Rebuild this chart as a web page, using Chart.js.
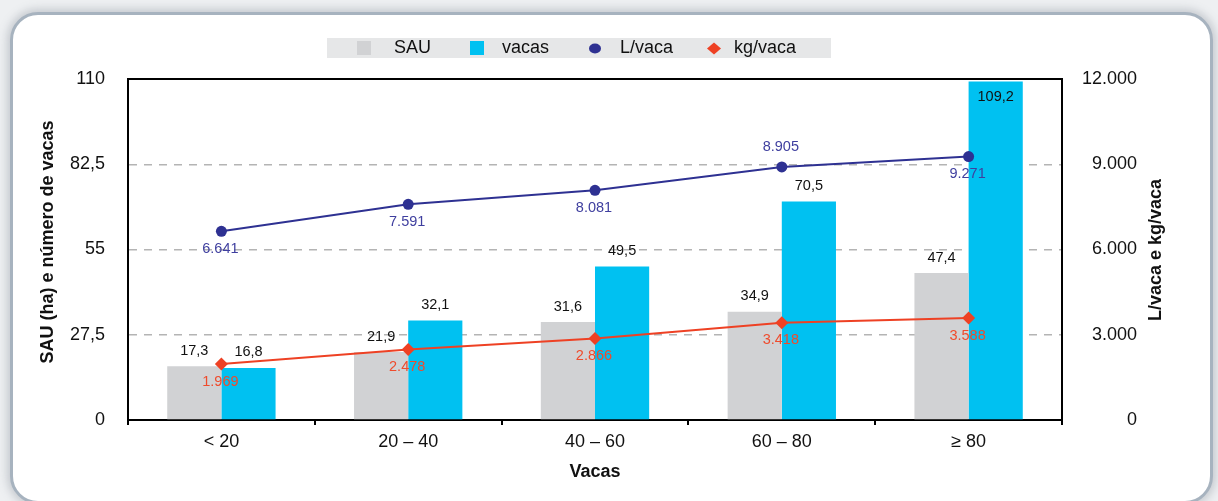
<!DOCTYPE html>
<html>
<head>
<meta charset="utf-8">
<script src="https://cdn.jsdelivr.net/npm/chart.js@4.4.1/dist/chart.umd.min.js"></script>
<style>
  html, body { margin: 0; padding: 0; background: #ffffff; overflow: hidden; }
  #wrap { position: relative; width: 1218px; height: 501px; background: #eef0f2; overflow: hidden; }
  #frame {
    position: absolute; left: 10px; top: 12px; width: 1197px; height: 486px;
    border: 3px solid #a7b3bf; border-radius: 28px; background: #ffffff;
    box-shadow: 0 0 9px 3px rgba(120,130,140,0.35);
  }
  #c { position: absolute; left: 0; top: 0; }
</style>
</head>
<body>
<div id="wrap">
  <div id="frame"></div>
  <canvas id="c" width="1218" height="501"></canvas>
</div>
<script>
// ---- data ----
const categories = ['< 20', '20 – 40', '40 – 60', '60 – 80', '≥ 80'];
const sauValues = [17.3, 21.9, 31.6, 34.9, 47.4];
const vacasValues = [16.8, 32.1, 49.5, 70.5, 109.2];
const litrosVaca = [6641, 7591, 8081, 8905, 9271];
const kgVaca = [1969, 2478, 2866, 3418, 3588];
const leftTickLabels = ['0', '27,5', '55', '82,5', '110'];
const rightTickLabels = ['0', '3.000', '6.000', '9.000', '12.000'];
const seriesNames = ['SAU', 'vacas', 'L/vaca', 'kg/vaca'];
const leftAxisTitle = 'SAU (ha) e número de vacas';
const rightAxisTitle = 'L/vaca e kg/vaca';
const xAxisTitle = 'Vacas';

// ---- label placement (style) ----
const sauLabelPos = ['above', 'above', 'above', 'above', 'above'];
const vacasLabelPos = ['above', 'above', 'above', 'above', 'inside'];
const litrosLabelPos = ['below', 'below', 'below', 'above', 'below'];
const kgLabelPos = ['below', 'below', 'below', 'below', 'below'];

const FONT = '"Liberation Sans", Arial, Helvetica, sans-serif';
const C_GRAY = '#d1d2d4';
const C_CYAN = '#00c1f1';
const C_BLUE = '#2e3192';
const C_BLUE_TXT = '#3f3f9f';
const C_RED = '#ee4124';
const C_RED_TXT = '#ef4b2c';

function fmtDec(v) { return v.toFixed(1).replace('.', ','); }
function fmtThousands(v) {
  const s = String(Math.round(v));
  return s.replace(/\B(?=(\d{3})+(?!\d))/g, '.');
}

const labelPlugin = {
  id: 'valueLabels',
  afterDatasetsDraw(chart) {
    const ctx = chart.ctx;
    ctx.save();
    ctx.font = '14.5px ' + FONT;
    ctx.textAlign = 'center';
    ctx.textBaseline = 'middle';
    chart.data.datasets.forEach((ds, i) => {
      const meta = chart.getDatasetMeta(i);
      meta.data.forEach((el, j) => {
        const v = ds.data[j];
        const pos = ds.labelPos[j];
        let y;
        if (ds.type === 'bar') {
          y = pos === 'inside' ? el.y + 15.5 : el.y - 15.5;
          ctx.fillStyle = '#111111';
          ctx.fillText(fmtDec(v), el.x, y);
        } else {
          y = pos === 'above' ? el.y - 19.5 : el.y + 17.5;
          ctx.fillStyle = ds.labelColor;
          ctx.fillText(fmtThousands(v), el.x - 1, y);
        }
      });
    });
    ctx.restore();
  }
};

const decorPlugin = {
  id: 'decor',
  afterDraw(chart) {
    const ctx = chart.ctx;
    const a = chart.chartArea;
    ctx.save();
    // top frame line of plot box
    ctx.strokeStyle = '#000000';
    ctx.lineWidth = 2;
    ctx.beginPath();
    ctx.moveTo(a.left - 1, a.top);
    ctx.lineTo(a.right + 1, a.top);
    ctx.stroke();

    // axis titles (vertical, reading upward)
    ctx.fillStyle = '#111111';
    ctx.font = 'bold 18px ' + FONT;
    ctx.textAlign = 'center';
    ctx.textBaseline = 'middle';
    ctx.save();
    ctx.translate(48, 242);
    ctx.rotate(-Math.PI / 2);
    ctx.fillText(leftAxisTitle, 0, 0);
    ctx.restore();
    ctx.save();
    ctx.translate(1156, 250);
    ctx.rotate(-Math.PI / 2);
    ctx.fillText(rightAxisTitle, 0, 0);
    ctx.restore();

    // legend
    const ds = chart.data.datasets;
    ctx.fillStyle = '#e6e7e8';
    ctx.fillRect(327, 38, 504, 20);
    const cy = 48.5;
    ctx.font = '18px ' + FONT;
    ctx.textAlign = 'left';
    ctx.textBaseline = 'middle';
    // SAU
    ctx.fillStyle = ds[2].backgroundColor;
    ctx.fillRect(357, 41, 14, 14);
    ctx.fillStyle = '#111111';
    ctx.fillText(ds[2].label, 394, cy);
    // vacas
    ctx.fillStyle = ds[3].backgroundColor;
    ctx.fillRect(470, 41, 14, 14);
    ctx.fillStyle = '#111111';
    ctx.fillText(ds[3].label, 502, cy);
    // L/vaca
    ctx.fillStyle = ds[0].borderColor;
    ctx.beginPath();
    ctx.ellipse(595, cy, 6, 5, 0, 0, Math.PI * 2);
    ctx.fill();
    ctx.fillStyle = '#111111';
    ctx.fillText(ds[0].label, 620, cy);
    // kg/vaca
    ctx.fillStyle = ds[1].borderColor;
    ctx.beginPath();
    ctx.moveTo(714, cy - 6);
    ctx.lineTo(721, cy);
    ctx.lineTo(714, cy + 6);
    ctx.lineTo(707, cy);
    ctx.closePath();
    ctx.fill();
    ctx.fillStyle = '#111111';
    ctx.fillText(ds[1].label, 734, cy);
    ctx.restore();
  }
};

new Chart(document.getElementById('c'), {
  data: {
    labels: categories,
    datasets: [
      {
        type: 'line', label: seriesNames[2], data: litrosVaca, yAxisID: 'y1', order: 0,
        borderColor: C_BLUE, backgroundColor: C_BLUE, borderWidth: 2,
        pointStyle: 'circle', pointRadius: 5.5, pointBackgroundColor: C_BLUE, pointBorderWidth: 0,
        labelPos: litrosLabelPos, labelColor: C_BLUE_TXT
      },
      {
        type: 'line', label: seriesNames[3], data: kgVaca, yAxisID: 'y1', order: 0,
        borderColor: C_RED, backgroundColor: C_RED, borderWidth: 2,
        pointStyle: 'rectRot', pointRadius: 6.5, pointBackgroundColor: C_RED, pointBorderWidth: 0,
        labelPos: kgLabelPos, labelColor: C_RED_TXT
      },
      {
        type: 'bar', label: seriesNames[0], data: sauValues, yAxisID: 'y', order: 1,
        backgroundColor: C_GRAY, borderWidth: 0,
        categoryPercentage: 0.58, barPercentage: 1.0,
        labelPos: sauLabelPos
      },
      {
        type: 'bar', label: seriesNames[1], data: vacasValues, yAxisID: 'y', order: 1,
        backgroundColor: C_CYAN, borderWidth: 0,
        categoryPercentage: 0.58, barPercentage: 1.0,
        labelPos: vacasLabelPos
      }
    ]
  },
  options: {
    responsive: false,
    animation: false,
    layout: { padding: { left: 0, right: 81, top: 79, bottom: 0 } },
    plugins: {
      legend: { display: false },
      tooltip: { enabled: false },
      title: { display: false }
    },
    scales: {
      x: {
        type: 'category',
        offset: true,
        afterFit(scale) { scale.height = 81; },
        grid: {
          display: true, offset: true, drawOnChartArea: false, drawTicks: true,
          tickLength: 5, color: '#000000', lineWidth: 2
        },
        border: { display: true, color: '#000000', width: 2 },
        ticks: { color: '#111111', font: { family: FONT, size: 18 }, padding: 6, maxRotation: 0 },
        title: {
          display: true, text: xAxisTitle, color: '#111111',
          font: { family: FONT, size: 18, weight: 'bold' }, padding: { top: 0, bottom: 18 }
        }
      },
      y: {
        position: 'left',
        min: 0, max: 110,
        afterFit(scale) { scale.width = 128; },
        afterBuildTicks(scale) { scale.ticks = [0, 27.5, 55, 82.5, 110].map(v => ({ value: v })); },
        grid: {
          drawTicks: false,
          color: (c) => (c.index === 0 || c.index === 4) ? 'rgba(0,0,0,0)' : '#b4b4b4',
          lineWidth: 1.5
        },
        border: { display: true, color: '#000000', width: 2, dash: [8, 7] },
        ticks: {
          color: '#111111', font: { family: FONT, size: 18 }, padding: 23, crossAlign: 'near',
          callback: (v, i) => leftTickLabels[i]
        }
      },
      y1: {
        position: 'right',
        min: 0, max: 12000,
        afterFit(scale) { scale.width = 75; },
        afterBuildTicks(scale) { scale.ticks = [0, 3000, 6000, 9000, 12000].map(v => ({ value: v })); },
        grid: { drawOnChartArea: false, drawTicks: false },
        border: { display: true, color: '#000000', width: 2 },
        ticks: {
          color: '#111111', font: { family: FONT, size: 18 }, crossAlign: 'far',
          callback: (v, i) => rightTickLabels[i]
        }
      }
    }
  },
  plugins: [labelPlugin, decorPlugin]
});
</script>
</body>
</html>
